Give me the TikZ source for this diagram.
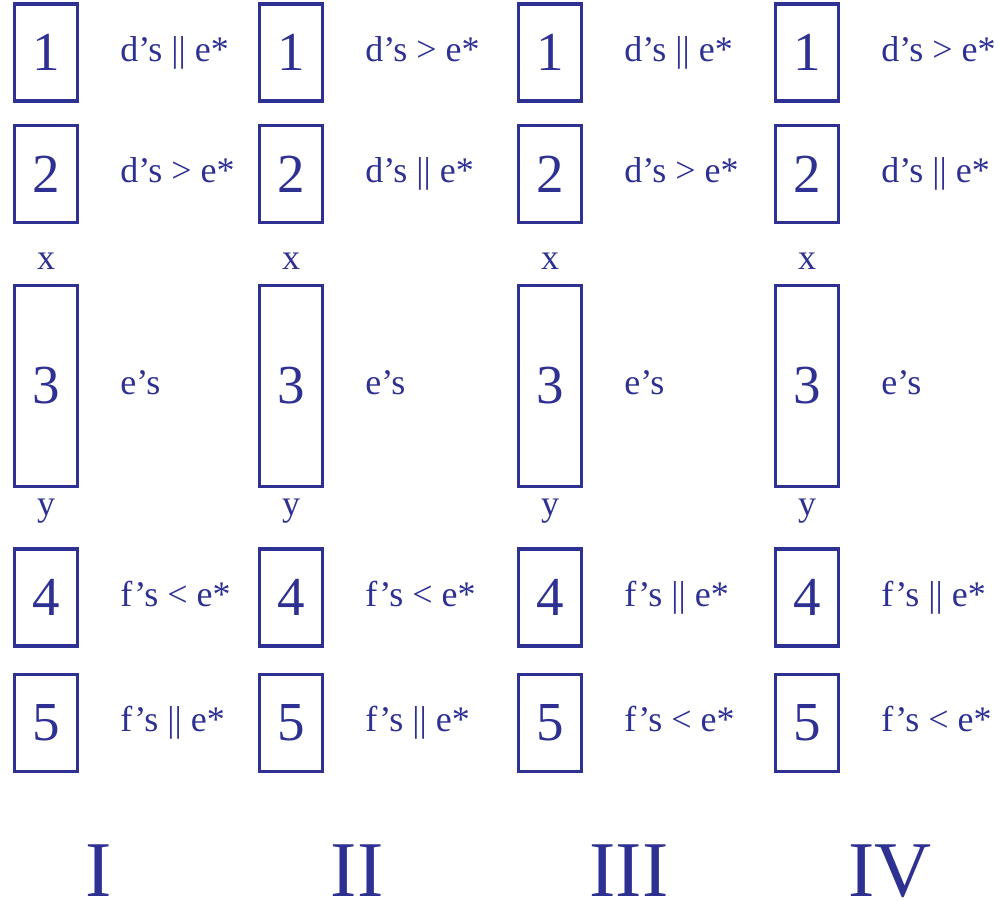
\documentclass[tikz,border=0pt]{standalone}
\usepackage{fontspec}
\setmainfont{Liberation Serif}
\usetikzlibrary{positioning}

\definecolor{ink}{HTML}{2E3192}

\begin{document}
\begin{tikzpicture}[x=1pt, y=-1pt,
    cell/.style={draw=ink, line width=3.5pt, minimum width=63pt, minimum height=97pt, inner sep=0pt, text=ink, font=\fontsize{55}{55}\selectfont},
    tall/.style={cell, minimum height=201pt},
    note/.style={inner sep=0pt, text=ink, font=\fontsize{36}{36}\selectfont},
    rel/.style={note, anchor=base west, yshift=-8.5pt},
    case/.style={inner sep=0pt, anchor=base, text=ink, font=\fontsize{79}{79}\selectfont}
  ]
    \useasboundingbox (0,0) rectangle (1003,900);

    \foreach \col/\cx/\ta/\tb/\td/\te in {
        I/46/{d’s || e*}/{d’s > e*}/{f’s < e*}/{f’s || e*},
        II/291/{d’s > e*}/{d’s || e*}/{f’s < e*}/{f’s || e*},
        III/550/{d’s || e*}/{d’s > e*}/{f’s || e*}/{f’s < e*},
        IV/807/{d’s > e*}/{d’s || e*}/{f’s || e*}/{f’s < e*}}
    {
      \node[cell] (\col-1) at (\cx,52.5) {1};
      \node[cell] (\col-2) at (\cx,174) {2};
      \node[tall] (\col-3) at (\cx,386) {3};
      \node[cell] (\col-4) at (\cx,597.5) {4};
      \node[cell] (\col-5) at (\cx,723) {5};

      \node[right=41pt of \col-1, rel] (\col-d1) {\ta};
      \node[right=41pt of \col-2, rel] (\col-d2) {\tb};
      \node[right=41pt of \col-3, rel] (\col-e) {e’s};
      \node[right=41pt of \col-4, rel] (\col-f4) {\td};
      \node[right=41pt of \col-5, rel] (\col-f5) {\te};

      \node[note, above=14pt of \col-3] (\col-x) {x};
      \node[note, below=11pt of \col-3] (\col-y) {y};
    }

    % column numerals
    \node[case] (nI) at (99,896) {I};
    \node[case] (nII) at (357,896) {II};
    \node[case] (nIII) at (629,896) {III};
    \node[case] (nIV) at (890,896) {IV};
\end{tikzpicture}
\end{document}
